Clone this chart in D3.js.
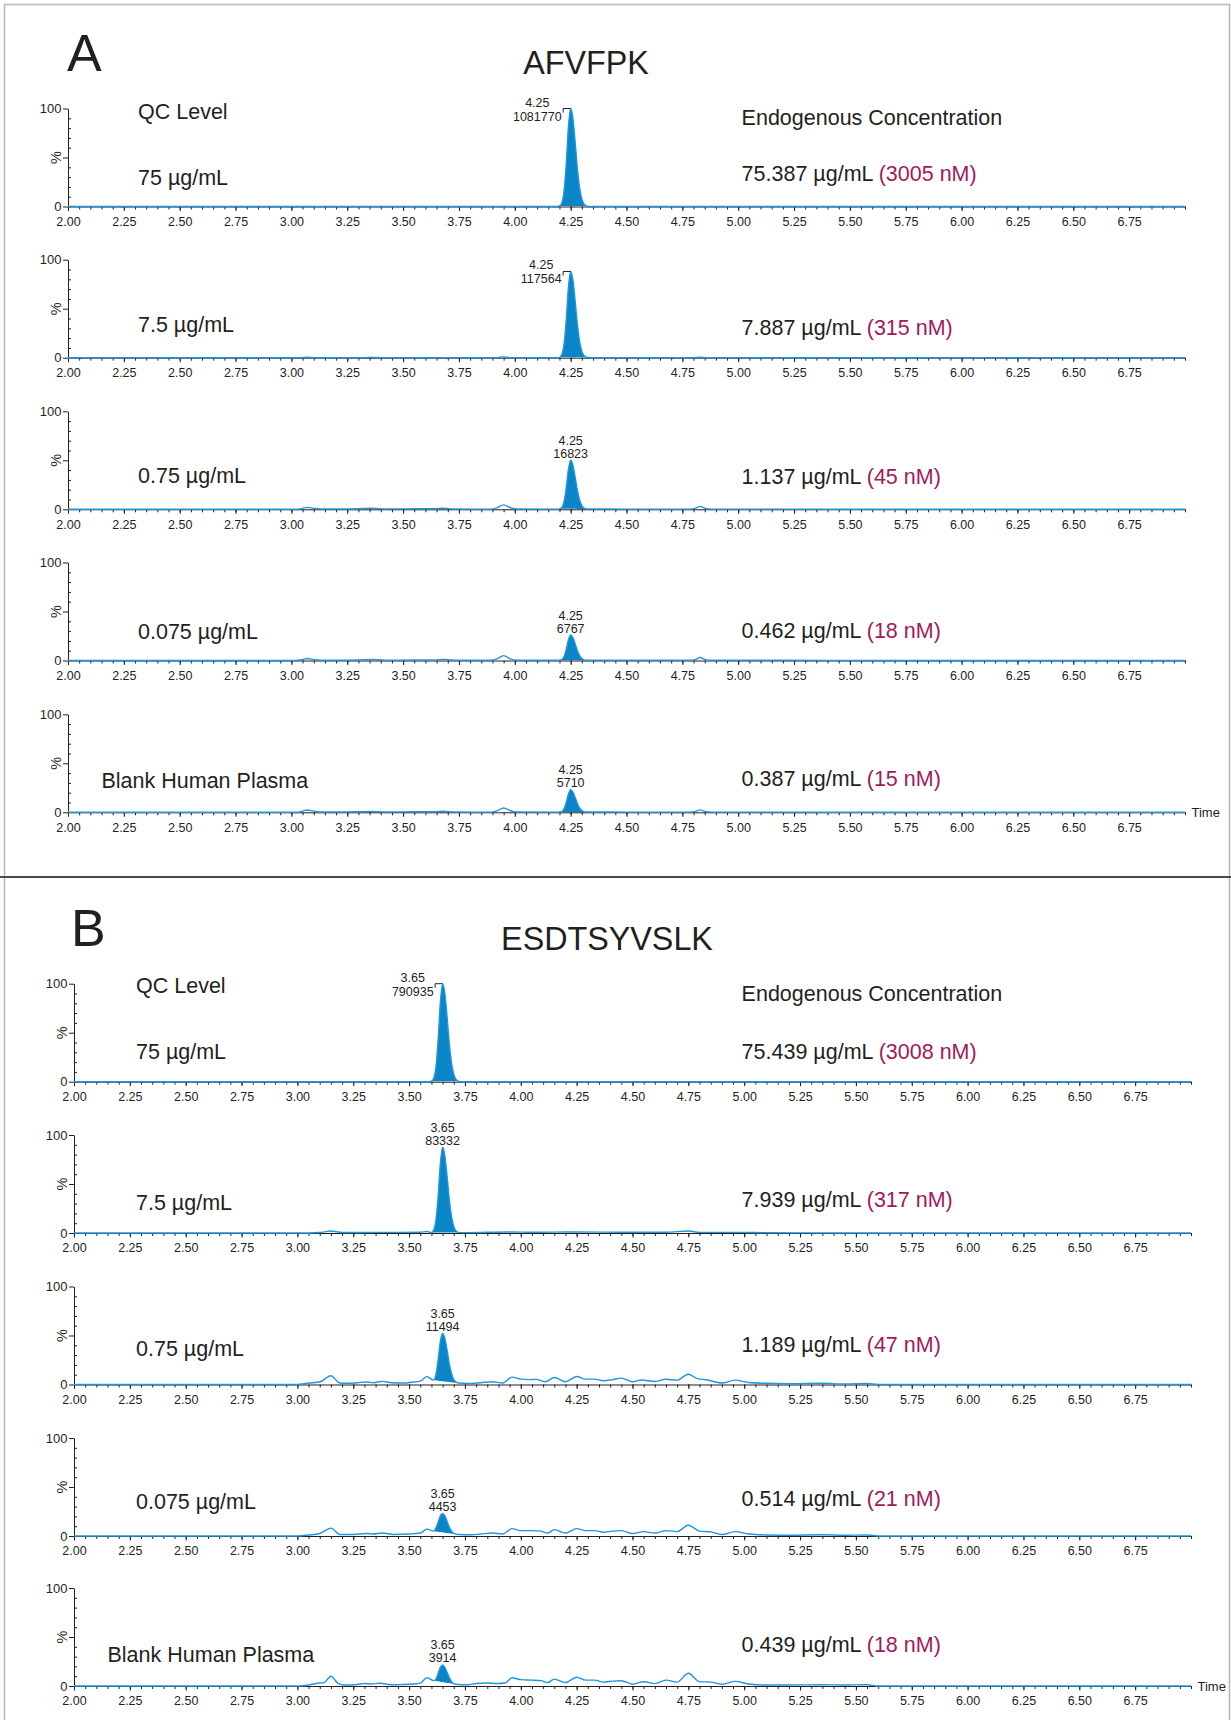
<!DOCTYPE html>
<html><head><meta charset="utf-8">
<script src="https://cdn.jsdelivr.net/npm/d3@7"></script>
<style>
body{margin:0;background:#fff;}
svg text{font-family:"Liberation Sans",Arial,Helvetica,sans-serif;}
</style>
</head><body>
<svg id="c" width="1231" height="1720"></svg>
<script>
// ---------------- DATA ----------------
const panelLetters = ["A", "B"];
const peptides = ["AFVFPK", "ESDTSYVSLK"];
const qcLevels = ["75 µg/mL", "7.5 µg/mL", "0.75 µg/mL", "0.075 µg/mL", "Blank Human Plasma"];
const qcHeader = "QC Level";
const concHeader = "Endogenous Concentration";
const concA = ["75.387 µg/mL", "7.887 µg/mL", "1.137 µg/mL", "0.462 µg/mL", "0.387 µg/mL"];
const nmA = ["(3005 nM)", "(315 nM)", "(45 nM)", "(18 nM)", "(15 nM)"];
const concB = ["75.439 µg/mL", "7.939 µg/mL", "1.189 µg/mL", "0.514 µg/mL", "0.439 µg/mL"];
const nmB = ["(3008 nM)", "(317 nM)", "(47 nM)", "(21 nM)", "(18 nM)"];
const rtA = ["4.25", "4.25", "4.25", "4.25", "4.25"];
const rtB = ["3.65", "3.65", "3.65", "3.65", "3.65"];
const areaA = ["1081770", "117564", "16823", "6767", "5710"];
const areaB = ["790935", "83332", "11494", "4453", "3914"];
const timeTicks = [2.00, 2.25, 2.50, 2.75, 3.00, 3.25, 3.50, 3.75, 4.00, 4.25, 4.50, 4.75, 5.00, 5.25, 5.50, 5.75, 6.00, 6.25, 6.50, 6.75];
const timeTickLabels = ["2.00", "2.25", "2.50", "2.75", "3.00", "3.25", "3.50", "3.75", "4.00", "4.25", "4.50", "4.75", "5.00", "5.25", "5.50", "5.75", "6.00", "6.25", "6.50", "6.75"];
const yTicks = [0, 50, 100];
const yTickLabels = ["0", "", "100"];
const yMinorTicks = [10, 20, 30, 40, 60, 70, 80, 90];
const timeDomain = [2, 7];
const axisTitle = "Time";
const yTitle = "%";

// chromatogram traces: [time (min), intensity (%)]
const traceA1 = [[2,0],[4.19,0],[4.20,0.5],[4.21,3.3],[4.22,14.6],[4.23,42.6],[4.24,81],[4.25,100],[4.26,90],[4.27,66],[4.28,39],[4.29,19],[4.30,7.6],[4.31,2.4],[4.32,0.6],[4.33,0],[7,0]];
const traceA2 = [[2,0],[3.04,0],[3.07,0.5],[3.10,0],[3.33,0],[3.36,0.3],[3.40,0],[3.92,0],[3.95,0.8],[3.98,0],[4.19,0],[4.20,0.4],[4.21,2.9],[4.22,12.8],[4.23,37.5],[4.24,71.3],[4.25,88],[4.26,79.2],[4.27,58.1],[4.28,34.3],[4.29,16.7],[4.30,6.7],[4.31,2.1],[4.32,0.5],[4.34,0],[4.80,0],[4.83,0.5],[4.86,0],[7,0]];
const traceA3 = [[2,0],[3.02,0],[3.05,1],[3.07,2],[3.10,1],[3.13,0.3],[3.22,0.3],[3.30,0.6],[3.36,1],[3.42,0.4],[3.55,0.5],[3.64,0.6],[3.68,1],[3.73,0.3],[3.89,0.2],[3.92,1.5],[3.95,4.5],[3.98,1.6],[4.01,0.3],[4.19,0.2],[4.20,0.5],[4.21,1.7],[4.22,7.3],[4.23,21.3],[4.24,40.5],[4.25,50],[4.26,45],[4.27,33],[4.28,19.5],[4.29,9.5],[4.30,3.8],[4.31,1.2],[4.32,0.4],[4.36,0.3],[4.50,0.2],[4.78,0.2],[4.81,1.2],[4.83,3],[4.85,1.2],[4.88,0.2],[5.20,0.2],[5.60,0],[7,0]];
const traceA4 = [[2,0],[3.02,0],[3.05,1],[3.07,2],[3.10,1],[3.13,0.3],[3.22,0.3],[3.30,0.6],[3.36,1],[3.42,0.4],[3.55,0.5],[3.64,0.6],[3.68,1.1],[3.73,0.3],[3.89,0.2],[3.92,1.6],[3.95,5],[3.98,1.7],[4.01,0.3],[4.19,0.2],[4.20,0.3],[4.21,0.9],[4.22,3.8],[4.23,11.1],[4.24,21],[4.25,26],[4.26,23.4],[4.27,17.2],[4.28,10.1],[4.29,4.9],[4.30,2],[4.31,0.7],[4.32,0.3],[4.36,0.3],[4.50,0.2],[4.78,0.2],[4.81,1.2],[4.83,3],[4.85,1.2],[4.88,0.2],[5.20,0.2],[5.60,0],[7,0]];
const traceA5 = [[2,0],[3.02,0],[3.05,1.2],[3.07,2.4],[3.10,1.2],[3.13,0.3],[3.22,0.3],[3.30,0.6],[3.36,0.9],[3.42,0.4],[3.55,0.5],[3.64,0.6],[3.68,1],[3.73,0.3],[3.89,0.2],[3.92,1.5],[3.95,4.4],[3.98,1.6],[4.01,0.3],[4.19,0.2],[4.20,0.3],[4.21,0.8],[4.22,3.4],[4.23,9.8],[4.24,18.6],[4.25,23],[4.26,20.7],[4.27,15.2],[4.28,9],[4.29,4.4],[4.30,1.7],[4.31,0.6],[4.32,0.3],[4.36,0.3],[4.50,0.2],[4.78,0.2],[4.81,1],[4.83,2.5],[4.85,1],[4.88,0.2],[5.20,0.2],[5.60,0],[7,0]];

const traceB1 = [[2,0],[3.59,0],[3.60,0.5],[3.61,3.3],[3.62,14.6],[3.63,42.6],[3.64,81],[3.65,100],[3.66,90],[3.67,66],[3.68,39],[3.69,19],[3.70,7.6],[3.71,2.4],[3.72,0.6],[3.73,0],[7,0]];
const traceB2 = [[2,0],[3.05,0],[3.10,0.5],[3.15,2],[3.20,0.5],[3.35,0.6],[3.55,0.8],[3.58,1.5],[3.60,0.4],[3.61,2.9],[3.62,12.8],[3.63,37.3],[3.64,70.9],[3.65,87.5],[3.66,78.8],[3.67,57.8],[3.68,34.1],[3.69,16.6],[3.70,6.7],[3.71,2.1],[3.72,0.6],[3.75,0.4],[3.96,1],[4.05,0.8],[4.15,0.9],[4.25,1],[4.45,0.8],[4.65,0.8],[4.75,2],[4.80,0.6],[4.96,0.6],[5.10,0.3],[5.60,0],[7,0]];
const traceB3 = [[2,0],[3.00,0],[3.05,1.5],[3.10,2.5],[3.15,9],[3.19,1.5],[3.23,1.2],[3.27,1.8],[3.31,2.6],[3.34,1.8],[3.38,3.2],[3.42,1.8],[3.47,1.5],[3.52,2.5],[3.55,3.5],[3.58,8],[3.61,4.5],[3.62,10],[3.63,25],[3.64,44],[3.65,52],[3.66,47],[3.67,35],[3.68,21],[3.69,11],[3.70,5],[3.71,2.5],[3.72,1.5],[3.76,1],[3.82,1.8],[3.87,2.8],[3.92,1.5],[3.96,7.5],[4.00,5.5],[4.04,5],[4.07,5.2],[4.11,2.8],[4.15,7.2],[4.20,2.8],[4.25,8.2],[4.29,5.5],[4.33,5.5],[4.37,3.8],[4.41,5],[4.45,6.5],[4.50,2.8],[4.54,4.6],[4.60,3],[4.65,5.3],[4.70,4.5],[4.75,10.5],[4.79,6],[4.83,4.8],[4.90,1.5],[4.96,4.5],[5.02,2],[5.10,1.2],[5.20,0.8],[5.35,1.2],[5.45,0.6],[5.55,1],[5.60,0],[7,0]];
const traceB4 = [[2,0],[3.00,0],[3.05,1],[3.10,2.5],[3.15,8],[3.19,1.5],[3.25,1.5],[3.31,2.5],[3.34,2],[3.38,3],[3.43,1.5],[3.50,2],[3.55,3],[3.58,7],[3.61,5],[3.62,8],[3.63,14],[3.64,20.5],[3.65,23],[3.66,20.5],[3.67,15],[3.68,9],[3.69,5],[3.70,2.8],[3.72,1.5],[3.78,1.2],[3.82,2],[3.87,3],[3.92,2],[3.96,7.5],[4.00,5.5],[4.05,5.5],[4.09,5],[4.12,3],[4.15,6.5],[4.20,3],[4.25,7.5],[4.29,5.5],[4.33,5.5],[4.37,3.8],[4.41,5],[4.45,5.5],[4.50,2.5],[4.55,4.5],[4.60,3],[4.65,5.5],[4.70,4.5],[4.75,11],[4.80,5],[4.85,4.2],[4.90,1.5],[4.96,4.5],[5.02,2],[5.10,1],[5.20,0.8],[5.35,1.2],[5.45,0.8],[5.55,1],[5.60,0],[7,0]];
const traceB5 = [[2,0],[3.00,0],[3.05,1],[3.10,3],[3.12,3.5],[3.15,10],[3.18,3],[3.21,1],[3.25,1.2],[3.30,2.5],[3.33,2],[3.37,2.8],[3.42,1.2],[3.47,1.5],[3.52,2],[3.55,3],[3.58,8.4],[3.61,5.5],[3.62,7],[3.63,13],[3.64,19],[3.65,21.5],[3.66,19],[3.67,14],[3.68,8.5],[3.69,4.5],[3.70,2.5],[3.72,1.5],[3.76,1.2],[3.80,2.5],[3.85,3],[3.90,2.5],[3.93,3],[3.96,8.4],[4.00,6.5],[4.05,6],[4.09,5.5],[4.12,3.5],[4.15,7],[4.20,3.5],[4.25,9],[4.29,6],[4.33,6],[4.37,4],[4.41,5],[4.45,5.4],[4.50,1.8],[4.55,4.4],[4.60,2.4],[4.65,6],[4.70,4],[4.75,13],[4.80,4.5],[4.85,4],[4.90,1.8],[4.96,4.7],[5.02,2],[5.10,1],[5.20,1],[5.35,1.3],[5.45,1],[5.55,1.3],[5.60,0],[7,0]];

// integration windows (min) for the filled peak
const integA = [[4.20,4.32],[4.20,4.32],[4.20,4.32],[4.20,4.32],[4.20,4.32]];
const integB = [[3.60,3.72],[3.60,3.72],[3.61,3.72],[3.61,3.72],[3.61,3.72]];

// ---------------- LAYOUT / STYLE ----------------
const INK = "#231f20", PINK = "#a3195b", FILL = "#0a85c8", LINE = "#1f97da";
const panels = [
  { letter: panelLetters[0], title: peptides[0], traces: [traceA1, traceA2, traceA3, traceA4, traceA5],
    integ: integA, conc: concA, nm: nmA, rt: rtA, area: areaA,
    x0: 68, x1: 1185, bases: [206.5, 357.7, 509.3, 660.5, 812.3],
    leftX: [138, 138, 138, 138, 101.5], leftDy: [-21.5, -25.7, -26.6, -22, -24.6], rightDy: [-25.5, -23.2, -25.3, -23, -26.8],
    qcDy: -88, endoDy: -81.5, side: [true, true, false, false, false],
    letterXY: [67, 71], titleXY: [586, 73.5] },
  { letter: panelLetters[1], title: peptides[1], traces: [traceB1, traceB2, traceB3, traceB4, traceB5],
    integ: integB, conc: concB, nm: nmB, rt: rtB, area: areaB,
    x0: 74, x1: 1191, bases: [1081.7, 1233, 1384.5, 1536, 1686],
    leftX: [136, 136, 136, 136, 107.5], leftDy: [-23, -23, -28.5, -27.5, -24], rightDy: [-23, -26.2, -32.8, -29.7, -34],
    qcDy: -88.7, endoDy: -81, side: [true, false, false, false, false],
    letterXY: [71, 945.5], titleXY: [607, 950] }
];
const RIGHT_X = 741.6, PLOT_H = 98;

const svg = d3.select("#c");

// frame
svg.append("rect").attr("x", 4.5).attr("y", 4.5).attr("width", 1225).attr("height", 1740)
  .attr("fill", "none").attr("stroke", "#b8b8b8").attr("stroke-width", 1.6);
svg.append("line").attr("x1", 0).attr("x2", 1231).attr("y1", 877).attr("y2", 877)
  .attr("stroke", "#4a4a4a").attr("stroke-width", 2);

const minorTicks = d3.range(0, 101).map(k => Math.round((timeDomain[0] + k * 0.05) * 100) / 100);

panels.forEach(P => {
  svg.append("text").attr("x", P.letterXY[0]).attr("y", P.letterXY[1])
    .attr("font-size", 52).attr("fill", INK).text(P.letter);
  svg.append("text").attr("x", P.titleXY[0]).attr("y", P.titleXY[1]).attr("text-anchor", "middle")
    .attr("font-size", 32.3).attr("fill", INK).text(P.title);

  const x = d3.scaleLinear().domain(timeDomain).range([P.x0, P.x1]);

  P.traces.forEach((trace, i) => {
    const base = P.bases[i];
    const y = d3.scaleLinear().domain([0, 100]).range([base, base - PLOT_H]);
    const g = svg.append("g");

    // x minor ticks
    g.append("g").attr("transform", `translate(0,${base})`)
      .call(d3.axisBottom(x).tickValues(minorTicks).tickSize(3).tickSizeOuter(0).tickFormat(""))
      .call(s => { s.select(".domain").remove(); s.selectAll("text").remove(); s.selectAll("line").attr("stroke", INK); });
    // x major axis
    const xa = g.append("g").attr("transform", `translate(0,${base})`)
      .call(d3.axisBottom(x).tickValues(timeTicks).tickSize(4.5).tickSizeOuter(0).tickPadding(6)
        .tickFormat((d, j) => timeTickLabels[j]));
    xa.selectAll("line,path").attr("stroke", INK);
    xa.selectAll("text").attr("font-size", 12.5).attr("fill", INK)
      .attr("font-family", '"Liberation Sans",Arial,sans-serif');

    // y axis
    const ya = g.append("g").attr("transform", `translate(${P.x0},0)`)
      .call(d3.axisLeft(y).tickValues(yTicks).tickSize(5).tickSizeOuter(0).tickPadding(1.5)
        .tickFormat((d, j) => yTickLabels[j]));
    ya.selectAll("line,path").attr("stroke", INK);
    ya.selectAll("text").attr("font-size", 13).attr("fill", INK)
      .attr("font-family", '"Liberation Sans",Arial,sans-serif');
    g.append("g").attr("transform", `translate(${P.x0},0)`)
      .call(d3.axisRight(y).tickValues(yMinorTicks).tickSize(3).tickFormat(""))
      .call(s => { s.select(".domain").remove(); s.selectAll("text").remove(); s.selectAll("line").attr("stroke", INK); });
    g.append("text").attr("transform", `translate(${P.x0 - 7},${y(50)}) rotate(-90)`)
      .attr("text-anchor", "middle").attr("font-size", 14.5).attr("fill", INK).text(yTitle);

    // peak fill
    const [s0, s1] = P.integ[i];
    const pts = trace.filter(d => d[0] >= s0 - 1e-9 && d[0] <= s1 + 1e-9);
    const a = pts[0], b = pts[pts.length - 1];
    const bl = t => a[1] + (b[1] - a[1]) * (t - a[0]) / (b[0] - a[0]);
    g.append("path").datum(pts)
      .attr("d", d3.area().x(d => x(d[0])).y0(d => y(bl(d[0]))).y1(d => y(d[1])).curve(d3.curveMonotoneX))
      .attr("fill", FILL);
    // trace line
    g.append("path").datum(trace)
      .attr("d", d3.line().x(d => x(d[0])).y(d => y(d[1])).curve(d3.curveMonotoneX))
      .attr("fill", "none").attr("stroke", LINE).attr("stroke-width", 1.4).attr("stroke-linejoin", "round");

    // peak annotation
    const apex = pts.reduce((m, d) => d[1] > m[1] ? d : m, pts[0]);
    const px = x(apex[0]), py = y(apex[1]);
    if (P.side[i]) {
      const num = g.append("text").attr("x", px - 9).attr("y", py + 12).attr("text-anchor", "end")
        .attr("font-size", 12.5).attr("fill", INK).text(P.area[i]);
      const w = num.node().getComputedTextLength();
      g.append("text").attr("x", px - 9 - w / 2).attr("y", py - 2).attr("text-anchor", "middle")
        .attr("font-size", 12.5).attr("fill", INK).text(P.rt[i]);
      g.append("path").attr("d", `M${px - 7.5},${py + 4}V${py}H${px}`)
        .attr("fill", "none").attr("stroke", INK).attr("stroke-width", 1);
    } else {
      g.append("text").attr("x", px).attr("y", py - 15.5).attr("text-anchor", "middle")
        .attr("font-size", 12.5).attr("fill", INK).text(P.rt[i]);
      g.append("text").attr("x", px).attr("y", py - 2.5).attr("text-anchor", "middle")
        .attr("font-size", 12.5).attr("fill", INK).text(P.area[i]);
    }

    // row labels
    if (i === 0) {
      g.append("text").attr("x", P.leftX[i]).attr("y", base + P.qcDy)
        .attr("font-size", 21.5).attr("fill", INK).text(qcHeader);
      g.append("text").attr("x", RIGHT_X).attr("y", base + P.endoDy)
        .attr("font-size", 21.5).attr("fill", INK).text(concHeader);
    }
    g.append("text").attr("x", P.leftX[i]).attr("y", base + P.leftDy[i])
      .attr("font-size", 21.5).attr("fill", INK).text(qcLevels[i]);
    const rt = g.append("text").attr("x", RIGHT_X).attr("y", base + P.rightDy[i])
      .attr("font-size", 21.5).attr("fill", INK);
    rt.append("tspan").text(P.conc[i] + " ");
    rt.append("tspan").attr("fill", PINK).text(P.nm[i]);

    if (i === P.traces.length - 1) {
      g.append("text").attr("x", P.x1 + 6.5).attr("y", base).attr("dy", "0.35em")
        .attr("font-size", 13).attr("fill", INK).text(axisTitle);
    }
  });
});
</script>
</body></html>
